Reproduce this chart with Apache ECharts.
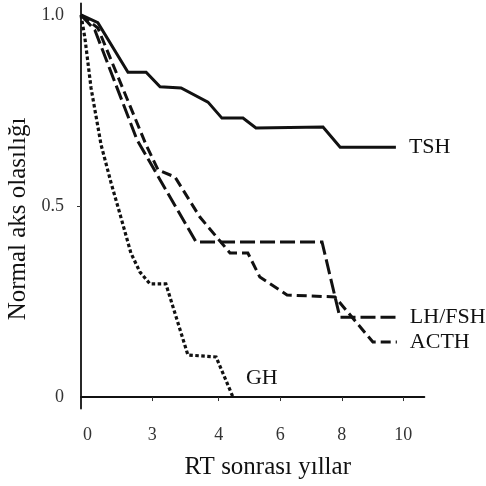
<!DOCTYPE html>
<html>
<head>
<meta charset="utf-8">
<script src="https://cdn.jsdelivr.net/npm/echarts@6/dist/echarts.min.js"></script>
<style>html,body{margin:0;padding:0;background:#fff}#c{width:486px;height:486px}</style>
</head>
<body>
<div id="c"></div>
<script>
// Survival curves (years after RT, probability of normal axis)
const tsh = [[0,1.0],[0.52,0.98],[1.45,0.85],[2.01,0.85],[2.44,0.812],[3.09,0.809],[3.92,0.772],[4.35,0.73],[5.0,0.73],[5.4,0.704],[7.47,0.707],[8.0,0.654],[9.72,0.654]];
const lhfsh = [[0,1.0],[0.43,0.96],[1.73,0.673],[3.55,0.406],[7.44,0.406],[7.99,0.209],[9.75,0.209]];
const acth = [[0,1.0],[0.52,0.966],[2.01,0.66],[2.38,0.594],[2.9,0.576],[3.67,0.471],[4.6,0.377],[5.15,0.377],[5.52,0.314],[6.36,0.267],[7.84,0.262],[9.01,0.144],[9.75,0.144]];
const gh = [[0,1.0],[0.12,0.94],[0.31,0.809],[0.62,0.66],[0.93,0.56],[1.23,0.471],[1.54,0.377],[1.82,0.327],[2.13,0.296],[2.62,0.296],[3.3,0.11],[4.17,0.105],[4.69,0.0]];

const seriesNames = ["TSH", "LH/FSH", "ACTH", "GH"];
const xTickPositions = [0.2, 2.2, 4.25, 6.15, 8.05, 9.95];
const xTickLabels = ["0", "3", "4", "6", "8", "10"];
const yTickValues = [0, 0.5, 1.0];
const yTickLabels = ["0", "0.5", "1.0"];
const xAxisTitle = "RT sonrası yıllar";
const yAxisTitle = "Normal aks olasılığı";

const FONT = '"Liberation Serif", "DejaVu Serif", serif';
const chart = echarts.init(document.getElementById('c'), null, {renderer: 'canvas'});

function lineSeries(name, data, dash, width, labelOffset) {
  return {
    name: name,
    type: 'line',
    data: data,
    symbol: 'none',
    smooth: false,
    lineStyle: {color: '#111', width: width, type: dash, cap: 'butt', join: 'miter'},
    endLabel: {
      show: true,
      formatter: '{a}',
      fontFamily: FONT,
      fontSize: 22,
      color: '#111',
      distance: 13,
      offset: labelOffset || [0, 0]
    },
    emphasis: {disabled: true},
    z: 3
  };
}

chart.setOption({
  animation: false,
  backgroundColor: '#fff',
  grid: {left: 81, right: 61.6, top: 3.5, bottom: 77.5, containLabel: false, outerBoundsMode: 'none'},
  xAxis: {
    type: 'value',
    min: 0,
    max: 10.6,
    name: xAxisTitle,
    nameLocation: 'middle',
    nameGap: 46,
    nameTextStyle: {fontFamily: FONT, fontSize: 25, color: '#111', padding: [0, 0, 0, 30]},
    axisLine: {show: true, lineStyle: {color: '#111', width: 1.8}},
    axisTick: {show: true, length: 4, inside: false, customValues: xTickPositions.slice(1), lineStyle: {color: '#333', width: 1}},
    axisLabel: {
      customValues: xTickPositions,
      margin: 18,
      fontFamily: FONT,
      fontSize: 18,
      color: '#333',
      formatter: function (v) {
        const i = xTickPositions.findIndex(p => Math.abs(p - v) < 1e-6);
        return i >= 0 ? xTickLabels[i] : '';
      }
    },
    splitLine: {show: false}
  },
  yAxis: {
    type: 'value',
    min: -0.03,
    max: 1.03,
    name: yAxisTitle,
    nameLocation: 'middle',
    nameGap: 48,
    nameRotate: 90,
    nameTextStyle: {fontFamily: FONT, fontSize: 25, color: '#111', padding: [0, 26, 0, 0]},
    axisLine: {show: true, lineStyle: {color: '#111', width: 1.8}},
    axisTick: {show: true, length: 4, inside: false, customValues: [0.5], lineStyle: {color: '#333', width: 1}},
    axisLabel: {
      customValues: yTickValues,
      margin: 17,
      fontFamily: FONT,
      fontSize: 18,
      color: '#333',
      formatter: function (v) {
        const i = yTickValues.findIndex(p => Math.abs(p - v) < 1e-6);
        return i >= 0 ? yTickLabels[i] : '';
      }
    },
    splitLine: {show: false}
  },
  series: [
    lineSeries(seriesNames[0], tsh, 'solid', 3),
    lineSeries(seriesNames[1], lhfsh, [15, 5], 3),
    lineSeries(seriesNames[2], acth, [10, 5], 3),
    lineSeries(seriesNames[3], gh, [3.5, 2.5], 3.2, [0, -19])
  ]
});
</script>
</body>
</html>
